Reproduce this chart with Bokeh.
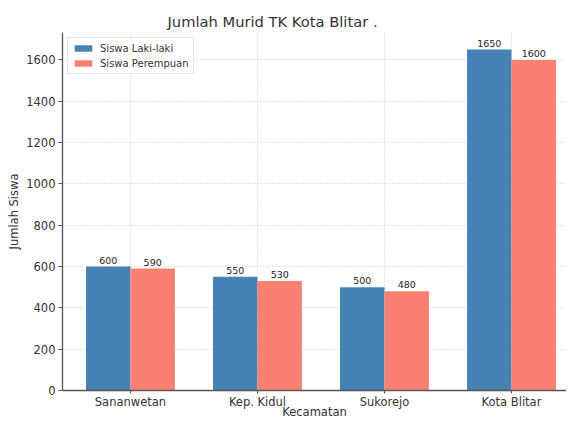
from bokeh.plotting import figure
from bokeh.models import (ColumnDataSource, Range1d, FixedTicker, LabelSet,
                          Legend, LegendItem, Title)
from bokeh.core.properties import value
from bokeh.transform import dodge
from bokeh.embed import file_html
from bokeh.resources import INLINE

categories = ["Sananwetan", "Kep. Kidul", "Sukorejo", "Kota Blitar"]
laki = [600, 550, 500, 1650]
perempuan = [590, 530, 480, 1600]
y_ticks = [0, 200, 400, 600, 800, 1000, 1200, 1400, 1600]

FONT = "DejaVu Sans"
BLUE = "#4682B4"
SALMON = "#FA8072"
W = 0.35

xs = list(range(len(categories)))
src = ColumnDataSource(dict(
    x=xs, laki=laki, perempuan=perempuan,
    laki_t=[str(v) for v in laki], per_t=[str(v) for v in perempuan],
))

p = figure(width=566, height=421, output_backend="svg", toolbar_location=None,
           x_range=Range1d(-0.535, 3.433), y_range=Range1d(0, max(laki) * 1.05),
           min_border_left=62, min_border_right=0, min_border_top=32, min_border_bottom=0)
p.outline_line_color = None
p.background_fill_color = "white"
p.border_fill_color = "white"

r1 = p.vbar(x=dodge("x", -W / 2), top="laki", width=W, source=src,
            fill_color=BLUE, line_color=None)
r2 = p.vbar(x=dodge("x", W / 2), top="perempuan", width=W, source=src,
            fill_color=SALMON, line_color=None)

for col, txt, off in (("laki", "laki_t", -W / 2), ("perempuan", "per_t", W / 2)):
    p.add_layout(LabelSet(x=dodge("x", off), y=col, text=txt, source=src,
                          text_align="center", text_baseline="bottom", y_offset=3,
                          text_font=value(FONT), text_font_size=value("9.5px"),
                          text_color="#222222"))

# title
p.title = Title(text="Jumlah Murid TK Kota Blitar .", text_font=FONT,
                text_font_size="14.7px", text_font_style="normal",
                text_color="#333333", align="left", offset=105, standoff=5)

# axes
p.xaxis.ticker = FixedTicker(ticks=xs)
p.xaxis.major_label_overrides = {i: c for i, c in enumerate(categories)}
p.yaxis.ticker = FixedTicker(ticks=y_ticks)
for ax in (p.xaxis[0], p.yaxis[0]):
    ax.axis_line_color = "#555555"
    ax.axis_line_width = 1.3
    ax.major_tick_line_color = "#555555"
    ax.major_tick_out = 4
    ax.major_tick_in = 0
    ax.minor_tick_line_color = None
    ax.major_label_text_font = FONT
    ax.major_label_text_font_size = "11.5px"
    ax.major_label_text_color = "#333333"
    ax.major_label_standoff = 3
    ax.axis_label_text_font = FONT
    ax.axis_label_text_font_size = "11.5px"
    ax.axis_label_text_font_style = "normal"
    ax.axis_label_text_color = "#333333"
p.xaxis.major_tick_out = 3
p.xaxis.major_label_standoff = 1
p.yaxis.axis_label = "Jumlah Siswa"
p.yaxis.axis_label_standoff = 2
p.xaxis.axis_label = "Kecamatan"
p.xaxis.axis_label_standoff = -7

# grid
p.xgrid.ticker = FixedTicker(ticks=xs)
for g in (p.xgrid[0], p.ygrid[0]):
    g.grid_line_color = "#cccccc"
    g.grid_line_dash = "1 2"
    g.grid_line_width = 1

legend = Legend(items=[LegendItem(label="Siswa Laki-laki", renderers=[r1]),
                       LegendItem(label="Siswa Perempuan", renderers=[r2])],
                location="top_left", margin=5, padding=4, spacing=3,
                glyph_width=22, glyph_height=8, label_height=12, label_standoff=6,
                label_text_font=FONT, label_text_font_size="10px",
                label_text_color="#333333", border_line_color="#cccccc",
                background_fill_alpha=0.8)
p.add_layout(legend)

open("out.html", "w").write(file_html(p, INLINE))
